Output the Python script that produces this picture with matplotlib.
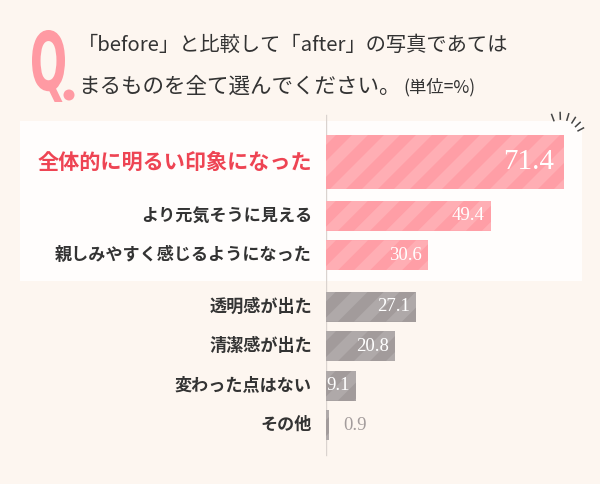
import numpy as np
import matplotlib
matplotlib.use("Agg")
import matplotlib.pyplot as plt
from matplotlib.patches import Rectangle, PathPatch, Circle, Polygon
from matplotlib.textpath import TextPath
from matplotlib.font_manager import FontProperties
from matplotlib.transforms import Affine2D, IdentityTransform
from matplotlib.lines import Line2D

plt.rcParams['font.family'] = ['Noto Sans CJK JP', 'DejaVu Sans']

# data
labels = ["全体的に明るい印象になった", "より元気そうに見える", "親しみやすく感じるようになった",
          "透明感が出た", "清潔感が出た", "変わった点はない", "その他"]
values = [71.4, 49.4, 30.6, 27.1, 20.8, 9.1, 0.9]
title_1 = "「before」と比較して「after」の写真であては"
title_2 = "まるものを全て選んでください。"
unit_txt = "(単位=%)"

W, H = 600, 484
bg = '#FDF6F0'
pink, pink_stripe = '#FF9EA6', '#FFAEB4'
gray, gray_stripe = '#A29B9B', '#AFA9A9'
qpink = '#FF9AA3'

fig = plt.figure(figsize=(W / 100, H / 100), dpi=100, facecolor=bg)
pix = Affine2D().scale(1 / W, 1 / H) + fig.transFigure   # pixel coords, origin bottom-left


def fx(px):
    return px / W


def fy(py):
    return 1 - py / H


# white panel behind the top three answers
fig.patches.append(Rectangle((20, H - 281), 562, 160, transform=pix,
                             facecolor='#FFFDFC', edgecolor='none', zorder=-1))

# sparkle at panel corner
cx, cy = 561, 140
for ang in [112, 92, 72, 55, 40, 26]:
    a = np.deg2rad(ang)
    r0, r1 = 19, 25
    fig.lines.append(Line2D([cx + r0 * np.cos(a), cx + r1 * np.cos(a)],
                            [H - cy + r0 * np.sin(a) * 1.1, H - cy + r1 * np.sin(a) * 1.1],
                            transform=pix, color='#444444', lw=1.1))

# Q mark
qpath = TextPath((0, 0), "Q", size=100, prop=FontProperties(family='DejaVu Sans', weight='bold'))
ext = qpath.get_extents()
tr = Affine2D().translate(-ext.x0, -ext.y0).scale(33 / ext.width, 72 / ext.height).translate(32, H - 102)
fig.patches.append(PathPatch(tr.transform_path(qpath), facecolor=qpink, edgecolor='none',
                             transform=pix))
fig.patches.append(Circle((69, H - 95), 5.5, facecolor=qpink, edgecolor='none', transform=pix))

# question text
fig.text(fx(78), fy(45), title_1, fontsize=14.6, color='#333333', va='center', ha='left')
t2 = fig.text(fx(78), fy(87), title_2, fontsize=15.5, color='#333333', va='center', ha='left')
fig.canvas.draw()
bb = t2.get_window_extent()
fig.text(bb.x1 / W + fx(3), fy(87), unit_txt, fontsize=12.5, color='#333333', va='center', ha='left')

# bar axes: x scale in percent, y in row units
pxu = 3.33
row = 39.5
ax = fig.add_axes([fx(326), 0, 1 - fx(326), 1])
ax.set_xlim(0, (W - 326) / pxu)
ax.set_ylim((H - 162) / row, -162 / row)
ax.axis('off')
ax.patch.set_alpha(0)

n = len(values)
idx = np.arange(n)
pos = idx + np.where(idx >= 1, 0.36, 0) + np.where(idx >= 3, 0.3, 0)
heights = [1.37] + [0.76] * (n - 1)
faces = [pink] * 3 + [gray] * 4
stripes = [pink_stripe] * 3 + [gray_stripe] * 4

ax.axvline(-0.15, ymin=1 - 455 / H, ymax=1 - 115 / H, color='#DAD3CF', lw=1, zorder=1)

period = 32  # stripe period in pixels
for i, (lab, v) in enumerate(zip(labels, values)):
    bar = ax.barh(pos[i], v, height=heights[i], color=faces[i], linewidth=0, zorder=2)[0]
    # diagonal stripes, clipped to the bar
    e = bar.get_window_extent()
    h = e.y1 - e.y0
    s = -h - period
    while s < e.x1:
        if s + period / 2 + h > e.x0:
            st = Polygon([(s, e.y0), (s + period / 2, e.y0), (s + period / 2 + h, e.y1), (s + h, e.y1)],
                         closed=True, facecolor=stripes[i], edgecolor='none',
                         transform=IdentityTransform(), zorder=2.5)
            ax.add_patch(st)
            st.set_clip_path(bar)
        s += period

    if i == 0:
        ax.text(-4.2, pos[i], lab, ha='right', va='center', fontsize=15.2,
                color='#EE4453', fontweight='bold')
        ax.text(v - 3, pos[i], f"{v}", ha='right', va='center', fontsize=21,
                color='white', family='Liberation Serif', zorder=3)
    else:
        ax.text(-4.2, pos[i], lab, ha='right', va='center', fontsize=12.3,
                color='#333333', fontweight='bold')
        if v > 5:
            ax.text(v - 1.8, pos[i], f"{v}", ha='right', va='center', fontsize=13.5,
                    color='white', family='Liberation Serif', zorder=3)
        else:
            ax.text(v + 4.2, pos[i], f"{v}", ha='left', va='center', fontsize=13.5,
                    color='#A39C9C', family='Liberation Serif', zorder=3)

fig.savefig("out.png", dpi=100, facecolor=bg)
